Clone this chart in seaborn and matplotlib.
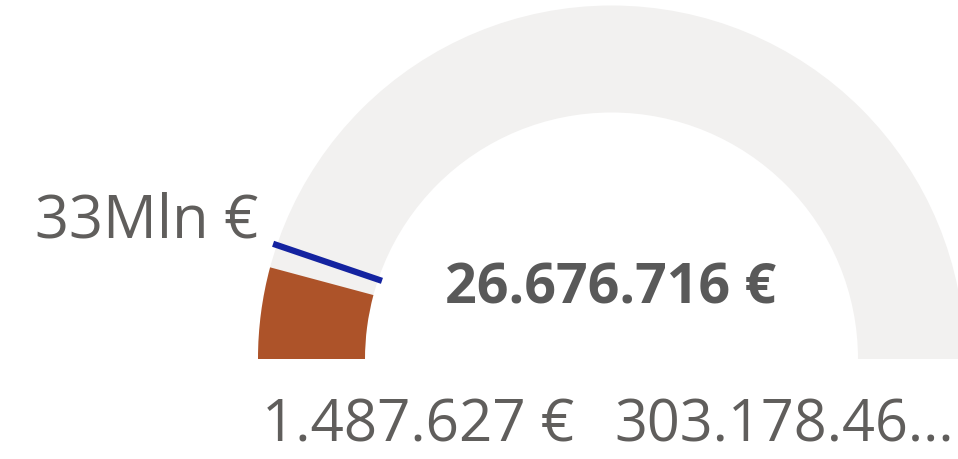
import numpy as np
import seaborn as sns
import matplotlib.pyplot as plt
from matplotlib.patches import Wedge

# gauge values
min_val = 1487627
max_val = 303178460
value = 26676716
target = 33000000

min_label = "1.487.627 €"
max_label = "303.178.46..."
value_label = "26.676.716 €"
target_label = "33Mln €"

sns.set_theme(style="white")
plt.rcParams['font.family'] = ['Open Sans', 'DejaVu Sans']

fig = plt.figure(figsize=(9.58, 4.6), dpi=100)
ax = fig.add_axes([0, 0, 1, 1])
ax.set_xlim(0, 958)
ax.set_ylim(460, 0)
ax.set_aspect('equal')
ax.axis('off')

cx, cy = 611.5, 360
r_out, r_in = 353.5, 246.5
width = r_out - r_in


def to_angle(v):
    # 180 deg = min (left), 360 deg = max (right); y axis is inverted
    frac = (v - min_val) / (max_val - min_val)
    return 180 + 180 * frac


# background track and value arc
ax.add_patch(Wedge((cx, cy), r_out, 180, 360, width=width, color='#F2F1F0', lw=0))
ax.add_patch(Wedge((cx, cy), r_out, 180, to_angle(value), width=width, color='#AD5329', lw=0))

# target marker
a = np.deg2rad(to_angle(target))
r1, r2 = r_in - 4, r_out + 4
ax.plot([cx + r1 * np.cos(a), cx + r2 * np.cos(a)],
        [cy + r1 * np.sin(a), cy + r2 * np.sin(a)],
        color='#1423A0', lw=4.5, solid_capstyle='butt')

gray = '#605E5C'
ax.text(258, 222, target_label, fontsize=43, color=gray, ha='right', va='center')
ax.text(611, 289, value_label, fontsize=40, color='#595959', ha='center', va='center',
        fontweight='bold')
ax.text(262, 426, min_label, fontsize=42, color=gray, ha='left', va='center')
ax.text(614, 426, max_label, fontsize=41.5, color=gray, ha='left', va='center')

fig.savefig('out.png', dpi=100)
